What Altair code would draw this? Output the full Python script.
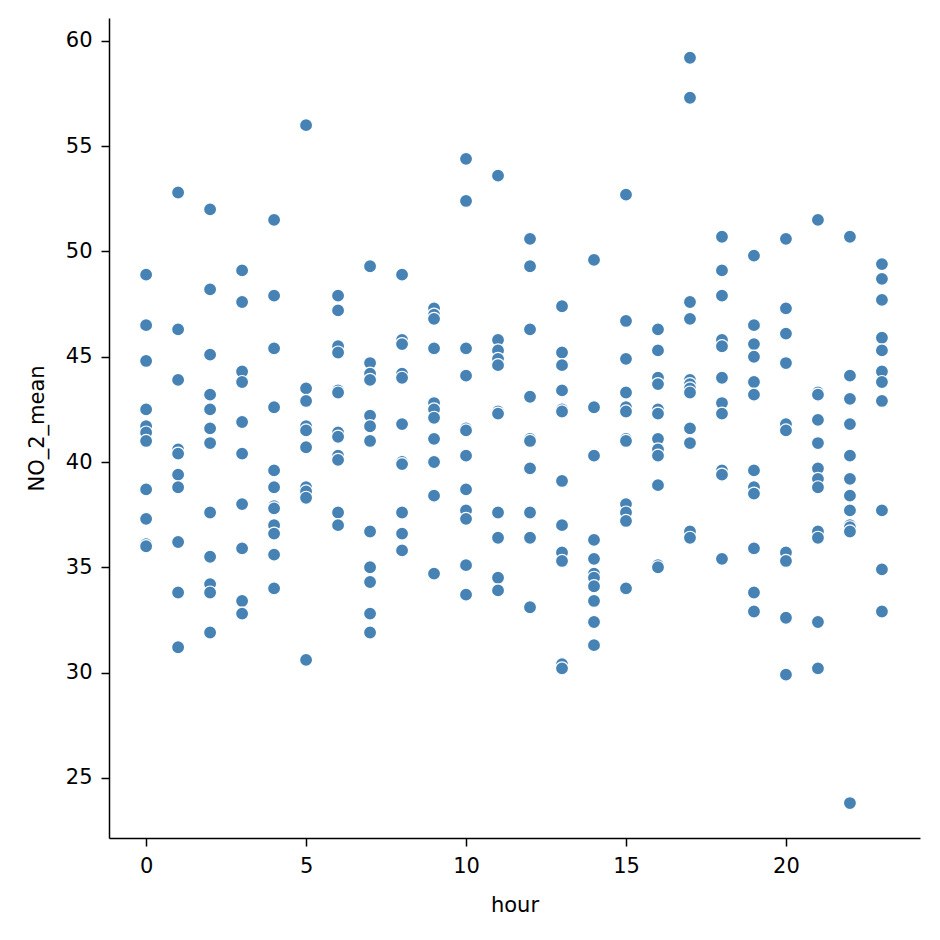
import altair as alt
import pandas as pd

h00 = [48.9, 46.5, 44.8, 42.5, 41.7, 41.4, 41.0, 38.7, 37.3, 36.1, 36.0]
h01 = [52.8, 46.3, 43.9, 40.6, 40.4, 39.4, 38.8, 36.2, 33.8, 31.2]
h02 = [52.0, 48.2, 45.1, 43.2, 42.5, 41.6, 40.9, 37.6, 35.5, 34.2, 33.8, 31.9]
h03 = [49.1, 47.6, 44.3, 43.8, 41.9, 40.4, 38.0, 35.9, 33.4, 32.8]
h04 = [51.5, 47.9, 45.4, 42.6, 39.6, 38.8, 37.9, 37.8, 37.0, 36.6, 35.6, 34.0]
h05 = [56.0, 43.5, 42.9, 41.7, 41.5, 40.7, 38.8, 38.6, 38.3, 30.6]
h06 = [47.9, 47.2, 45.5, 45.2, 43.4, 43.3, 41.4, 41.2, 40.3, 40.1, 37.6, 37.0]
h07 = [49.3, 44.7, 44.2, 43.9, 42.2, 41.7, 41.0, 36.7, 35.0, 34.3, 32.8, 31.9]
h08 = [48.9, 45.8, 45.6, 44.2, 44.0, 41.8, 40.0, 39.9, 37.6, 36.6, 35.8]
h09 = [47.3, 47.0, 46.8, 45.4, 42.8, 42.5, 42.1, 41.1, 40.0, 38.4, 34.7]
h10 = [54.4, 52.4, 45.4, 44.1, 41.6, 41.5, 40.3, 38.7, 37.7, 37.3, 35.1, 33.7]
h11 = [53.6, 45.8, 45.3, 44.9, 44.6, 42.4, 42.3, 37.6, 36.4, 34.5, 33.9]
h12 = [50.6, 49.3, 46.3, 43.1, 41.1, 41.0, 39.7, 37.6, 36.4, 33.1]
h13 = [47.4, 45.2, 44.6, 43.4, 42.5, 42.4, 39.1, 37.0, 35.7, 35.3, 30.4, 30.2]
h14 = [49.6, 42.6, 40.3, 36.3, 35.4, 34.7, 34.5, 34.1, 33.4, 32.4, 31.3]
h15 = [52.7, 46.7, 44.9, 43.3, 42.6, 42.4, 41.1, 41.0, 38.0, 37.6, 37.2, 34.0]
h16 = [46.3, 45.3, 44.0, 43.7, 42.5, 42.3, 41.1, 40.6, 40.3, 38.9, 35.1, 35.0]
h17 = [59.2, 57.3, 47.6, 46.8, 43.9, 43.7, 43.5, 43.3, 41.6, 40.9, 36.7, 36.4]
h18 = [50.7, 49.1, 47.9, 45.8, 45.5, 44.0, 42.8, 42.3, 39.6, 39.4, 35.4]
h19 = [49.8, 46.5, 45.6, 45.0, 43.8, 43.2, 39.6, 38.8, 38.5, 35.9, 33.8, 32.9]
h20 = [50.6, 47.3, 46.1, 44.7, 41.8, 41.5, 35.7, 35.3, 32.6, 29.9]
h21 = [51.5, 43.3, 43.2, 42.0, 40.9, 39.7, 39.2, 38.8, 36.7, 36.4, 32.4, 30.2]
h22 = [50.7, 44.1, 43.0, 41.8, 40.3, 39.2, 38.4, 37.7, 37.0, 36.9, 36.7, 23.8]
h23 = [49.4, 48.7, 47.7, 45.9, 45.3, 44.3, 43.8, 42.9, 37.7, 34.9, 32.9]

hours = [h00, h01, h02, h03, h04, h05, h06, h07, h08, h09, h10, h11,
         h12, h13, h14, h15, h16, h17, h18, h19, h20, h21, h22, h23]

rows = []
for h, vals in enumerate(hours):
    for v in vals:
        rows.append({"hour": h, "NO_2_mean": v})
df = pd.DataFrame(rows)

x_ticks = [0, 5, 10, 15, 20]
y_ticks = [25, 30, 35, 40, 45, 50, 55, 60]

axis_common = dict(
    grid=False,
    labelFont="DejaVu Sans",
    titleFont="DejaVu Sans",
    labelFontSize=21,
    titleFontSize=21,
    titleFontWeight="normal",
    labelColor="black",
    titleColor="black",
    tickColor="black",
    domainColor="black",
    tickSize=8,
    tickWidth=1.5,
    domainWidth=1.5,
)

chart = alt.Chart(df).mark_circle(
    size=170, color="#4682b4", opacity=1, stroke="white", strokeWidth=1.2
).encode(
    x=alt.X("hour:Q", title="hour",
            scale=alt.Scale(domain=[-1.16, 24.19], zero=False, nice=False),
            axis=alt.Axis(values=x_ticks, labelPadding=9, titlePadding=18, **axis_common)),
    y=alt.Y("NO_2_mean:Q", title="NO_2_mean",
            scale=alt.Scale(domain=[22.14, 61.09], zero=False, nice=False),
            axis=alt.Axis(values=y_ticks, labelPadding=9, titlePadding=18, **axis_common)),
).properties(
    width=811, height=820,
    autosize=alt.AutoSizeParams(type="none"),
    padding={"left": 101, "top": 10, "right": 12, "bottom": 94},
).configure_view(stroke=None)

chart.save("out.html", embed_options={"renderer": "svg", "actions": False})
